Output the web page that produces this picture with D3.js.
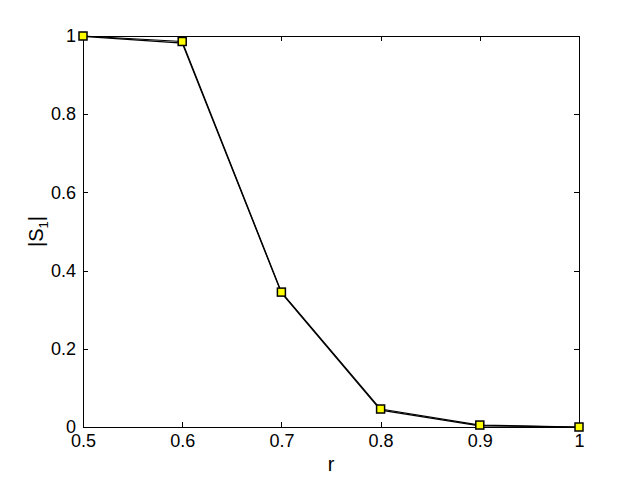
<!DOCTYPE html>
<html><head><meta charset="utf-8">
<script src="https://cdn.jsdelivr.net/npm/d3@7"></script>
<style>body{margin:0;background:#fff}svg{display:block}</style>
</head><body>
<script>
const rValues = [0.5, 0.6, 0.7, 0.8, 0.9, 1.0];
const s1Values = [1.0, 0.986, 0.345, 0.046, 0.005, 0.0];
const s1ValuesB = [0.999, 0.982, 0.343, 0.043, 0.003, 0.0];
const xTicks = [0.5, 0.6, 0.7, 0.8, 0.9, 1];
const yTicks = [0, 0.2, 0.4, 0.6, 0.8, 1];

const W = 640, H = 480;
const m = {left: 83, right: 61, top: 36, bottom: 53};
const svg = d3.select("body").append("svg").attr("width", W).attr("height", H);
const x = d3.scaleLinear().domain([0.5, 1]).range([m.left, W - m.right]);
const y = d3.scaleLinear().domain([0, 1]).range([H - m.bottom, m.top]);
const font = "Liberation Sans, Arial, Helvetica, sans-serif";

svg.append("rect").attr("x", m.left).attr("y", m.top)
  .attr("width", W - m.left - m.right).attr("height", H - m.top - m.bottom)
  .attr("fill", "#fff").attr("stroke", "#000").attr("stroke-width", 1).attr("shape-rendering", "crispEdges");

const tl = 5;
const fmt = d => d === 1 ? "1" : d === 0 ? "0" : d3.format(".1f")(d);
const xb = svg.append("g").attr("transform", `translate(0,${H - m.bottom})`)
  .call(d3.axisBottom(x).tickValues(xTicks).tickSize(-tl).tickPadding(tl + 2).tickFormat(fmt));
const xt = svg.append("g").attr("transform", `translate(0,${m.top})`)
  .call(d3.axisTop(x).tickValues(xTicks).tickSize(-tl).tickFormat(""));
const yl = svg.append("g").attr("transform", `translate(${m.left},0)`)
  .call(d3.axisLeft(y).tickValues(yTicks).tickSize(-tl).tickPadding(tl + 2).tickFormat(fmt));
const yr = svg.append("g").attr("transform", `translate(${W - m.right},0)`)
  .call(d3.axisRight(y).tickValues(yTicks).tickSize(-tl).tickFormat(""));
[xb, xt, yl, yr].forEach(g => {
  g.select(".domain").remove();
  g.selectAll("line").attr("stroke", "#000").attr("shape-rendering", "crispEdges");
  g.selectAll("text").attr("font-family", font).attr("font-size", 18).attr("fill", "#000");
});

const line = d3.line().x((d, i) => x(rValues[i])).y(d => y(d));
[s1Values, s1ValuesB].forEach(vals => {
  svg.append("path").datum(vals).attr("d", line)
    .attr("fill", "none").attr("stroke", "#000").attr("stroke-width", 1.2);
});

const ms = 8;
svg.selectAll("rect.mk").data(s1Values).enter().append("rect").attr("class", "mk")
  .attr("x", (d, i) => x(rValues[i]) - ms / 2).attr("y", d => y(d) - ms / 2)
  .attr("width", ms).attr("height", ms)
  .attr("fill", "#ffff00").attr("stroke", "#000").attr("stroke-width", 1.5);

svg.append("text").attr("x", x(0.75)).attr("y", 471).attr("text-anchor", "middle")
  .attr("font-family", font).attr("font-size", 20).text("r");

const yt = svg.append("text").attr("transform", `translate(43,${y(0.5)}) rotate(-90)`)
  .attr("text-anchor", "middle").attr("font-family", font).attr("font-size", 20);
yt.append("tspan").text("|S");
yt.append("tspan").attr("font-size", 13).attr("dy", 5).text("1");
yt.append("tspan").attr("dy", -5).text("|");
</script>
</body></html>
